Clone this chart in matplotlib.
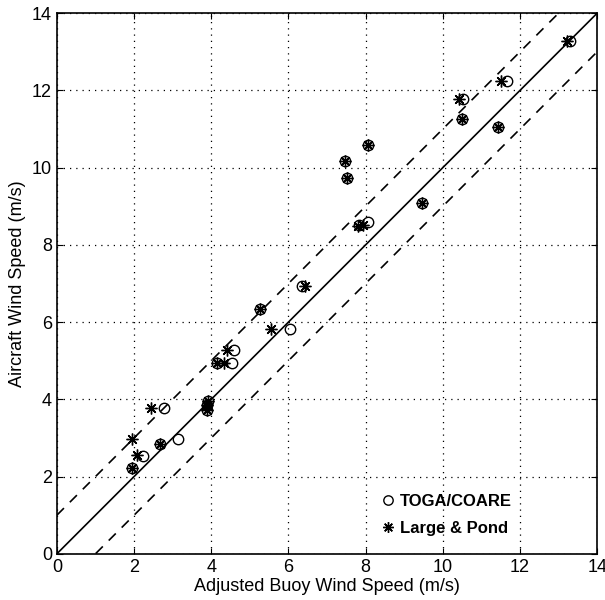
import matplotlib
matplotlib.use("Agg")
import matplotlib.pyplot as plt
import numpy as np

plt.rcParams['font.family'] = ['Liberation Sans', 'DejaVu Sans']

toga_x = [1.95, 2.22, 2.67, 3.13, 2.78, 3.88, 3.90, 3.92, 4.14, 4.55, 4.60, 5.26, 6.04, 6.35,
          7.47, 7.51, 7.84, 8.07, 8.05, 9.45, 10.51, 10.53, 11.42, 11.66, 13.30]
toga_y = [2.23, 2.54, 2.85, 2.97, 3.77, 3.73, 3.85, 3.97, 4.95, 4.95, 5.28, 6.33, 5.82, 6.93,
          10.18, 9.72, 8.51, 8.58, 10.58, 9.09, 11.26, 11.79, 11.04, 12.24, 13.28]

lp_x = [1.95, 2.07, 1.95, 2.67, 2.44, 3.88, 3.90, 3.92, 4.14, 4.34, 4.40, 5.26, 5.55, 6.43,
        7.47, 7.51, 7.80, 7.92, 8.05, 9.45, 10.51, 10.41, 11.42, 11.51, 13.22]
lp_y = [2.23, 2.56, 2.97, 2.85, 3.77, 3.73, 3.85, 3.97, 4.95, 4.95, 5.28, 6.33, 5.82, 6.93,
        10.18, 9.72, 8.50, 8.52, 10.58, 9.09, 11.26, 11.79, 11.04, 12.24, 13.28]

ticks = [0, 2, 4, 6, 8, 10, 12, 14]
line_x = [0, 14]

fig = plt.figure(figsize=(6.05, 6.0), dpi=100)
ax = fig.add_axes([0.094, 0.077, 0.893, 0.901])

ax.plot(line_x, line_x, '-', color='black', lw=1.2)
ax.plot(line_x, [v + 1 for v in line_x], '--', color='black', lw=1.2, dashes=(6, 5))
ax.plot(line_x, [v - 1 for v in line_x], '--', color='black', lw=1.2, dashes=(6, 5))

ax.plot(toga_x, toga_y, linestyle='none', marker='o', ms=7.5, mfc='none', mec='black', mew=1.0,
        label='TOGA/COARE')
ax.plot(lp_x, lp_y, linestyle='none', marker=(8, 2, 0), ms=8.5, color='black', mew=1.0,
        label='Large & Pond')

ax.set_xlim(0, 14)
ax.set_ylim(0, 14)
ax.set_xticks(ticks)
ax.set_yticks(ticks)
ax.grid(True, linestyle=(0, (1, 4)), color='black', lw=0.9)
ax.tick_params(direction='in', labelsize=13, length=4, color='black',
               top=True, right=True)
for s in ax.spines.values():
    s.set_linewidth(1.2)

ax.set_xlabel('Adjusted Buoy Wind Speed (m/s)', fontsize=13, labelpad=2)
ax.set_ylabel('Aircraft Wind Speed (m/s)', fontsize=13, labelpad=4)

leg = ax.legend(loc='lower right', bbox_to_anchor=(0.87, 0.005), frameon=False,
                prop={'weight': 'bold', 'size': 12}, handletextpad=0.2, labelspacing=0.75,
                handlelength=1.0, markerscale=0.9)

fig.savefig('out.png', dpi=100)
